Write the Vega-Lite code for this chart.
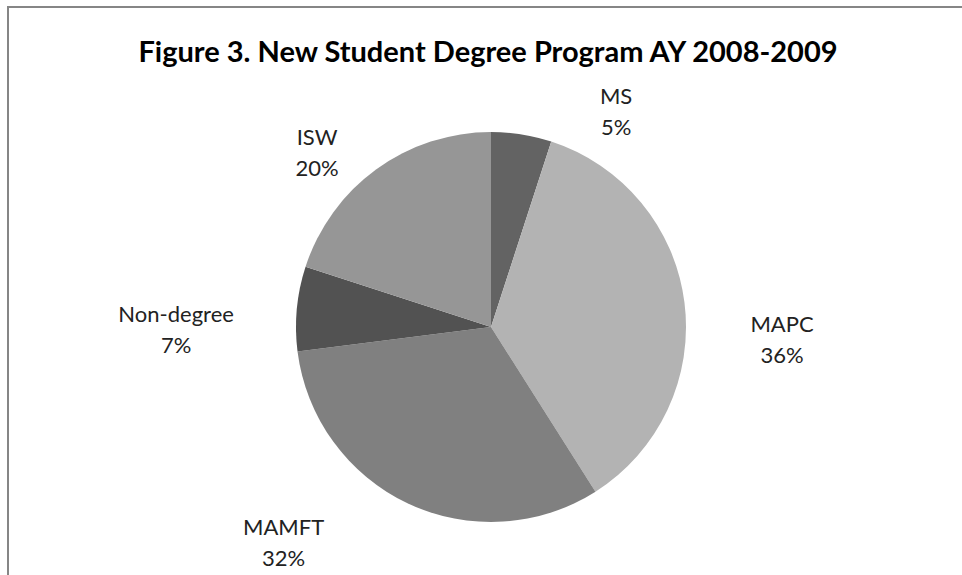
{
  "$schema": "https://vega.github.io/schema/vega-lite/v6.json",
  "width": 966,
  "height": 640,
  "padding": {"left": 8, "top": 7, "right": 0, "bottom": 0},
  "autosize": {"type": "pad"},
  "background": "white",
  "view": {"stroke": "#868686", "strokeWidth": 2},
  "title": {
    "text": "Figure 3. New Student Degree Program AY 2008-2009",
    "font": "Lato",
    "fontSize": 29,
    "fontWeight": "bold",
    "color": "#000000",
    "anchor": "middle",
    "frame": "group",
    "baseline": "alphabetic",
    "offset": -84,
    "dx": -3
  },
  "data": {
    "values": [
      {"name": "MS", "share": 5, "label": "MS\n5%", "order": 1},
      {"name": "MAPC", "share": 36, "label": "MAPC\n36%", "order": 2},
      {"name": "MAMFT", "share": 32, "label": "MAMFT\n32%", "order": 3},
      {"name": "Non-degree", "share": 7, "label": "Non-degree\n7%", "order": 4},
      {"name": "ISW", "share": 20, "label": "ISW\n20%", "order": 5}
    ]
  },
  "encoding": {
    "theta": {"field": "share", "type": "quantitative", "stack": true},
    "order": {"field": "order", "type": "quantitative"}
  },
  "layer": [
    {
      "mark": {"type": "arc", "outerRadius": 195, "stroke": null},
      "encoding": {
        "color": {
          "field": "name",
          "type": "nominal",
          "scale": {
            "domain": ["MS", "MAPC", "MAMFT", "Non-degree", "ISW"],
            "range": ["#636363", "#b3b3b3", "#808080", "#525252", "#969696"]
          },
          "legend": null
        }
      }
    },
    {
      "mark": {"type": "text", "radius": 250, "font": "Lato", "fontSize": 22, "color": "#222222", "lineBreak": "\n", "lineHeight": 31, "align": "center", "baseline": "middle", "dx": 86, "dy": 17},
      "encoding": {"text": {"condition": {"test": "datum.name === 'MS'", "field": "label"}, "value": ""}}
    },
    {
      "mark": {"type": "text", "radius": 250, "font": "Lato", "fontSize": 22, "color": "#222222", "lineBreak": "\n", "lineHeight": 31, "align": "center", "baseline": "middle", "dx": 43, "dy": 29},
      "encoding": {"text": {"condition": {"test": "datum.name === 'MAPC'", "field": "label"}, "value": ""}}
    },
    {
      "mark": {"type": "text", "radius": 250, "font": "Lato", "fontSize": 22, "color": "#222222", "lineBreak": "\n", "lineHeight": 31, "align": "center", "baseline": "middle", "dx": -101, "dy": -25},
      "encoding": {"text": {"condition": {"test": "datum.name === 'MAMFT'", "field": "label"}, "value": ""}}
    },
    {
      "mark": {"type": "text", "radius": 250, "font": "Lato", "fontSize": 22, "color": "#222222", "lineBreak": "\n", "lineHeight": 31, "align": "center", "baseline": "middle", "dx": -66, "dy": 12},
      "encoding": {"text": {"condition": {"test": "datum.name === 'Non-degree'", "field": "label"}, "value": ""}}
    },
    {
      "mark": {"type": "text", "radius": 250, "font": "Lato", "fontSize": 22, "color": "#222222", "lineBreak": "\n", "lineHeight": 31, "align": "center", "baseline": "middle", "dx": -27, "dy": 13},
      "encoding": {"text": {"condition": {"test": "datum.name === 'ISW'", "field": "label"}, "value": ""}}
    }
  ]
}
